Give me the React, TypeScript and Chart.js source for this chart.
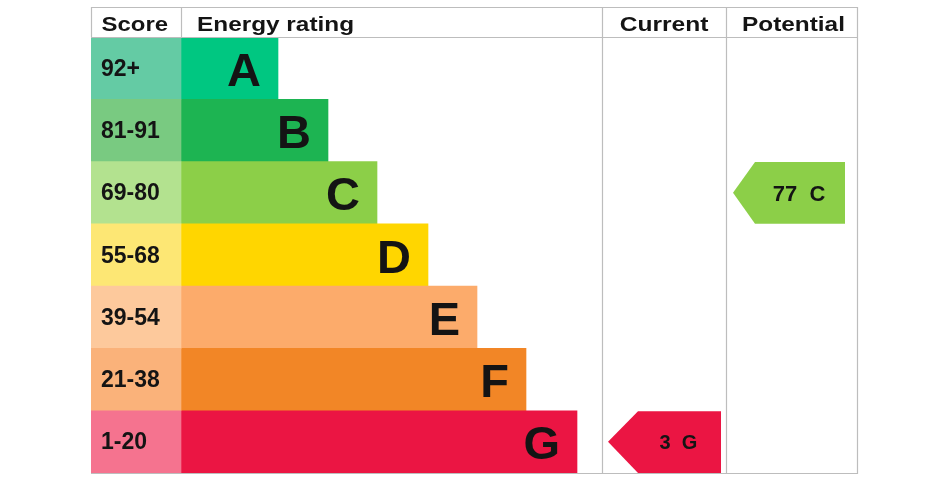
import React, { useEffect, useRef } from "react";
import { Chart, registerables } from "chart.js";

Chart.register(...registerables);

// ---- data ----
const ratings = ["A", "B", "C", "D", "E", "F", "G"];
const scoreBands = ["92+", "81-91", "69-80", "55-68", "39-54", "21-38", "1-20"];
const barLengths = [97, 147, 196, 247, 296, 345, 396];
const headers = ["Score", "Energy rating", "Current", "Potential"];
const currentScore = 3;
const currentRating = "G";
const potentialScore = 77;
const potentialRating = "C";

// ---- styles ----
const scoreColors = ["#64cba4", "#79ca81", "#b3e28f", "#fde774", "#fdc99c", "#fab27a", "#f5738f"];
const barColors = ["#00c781", "#1db452", "#8ccf48", "#ffd600", "#fcab6b", "#f28626", "#eb1543"];
const columnEdges = [0, 90, 511, 635, 766];
const FONT = '"Liberation Sans", Arial, Helvetica, sans-serif';
const GRID = "#bdbdbd";
const TEXT = "#141414";

function stretchText(ctx: CanvasRenderingContext2D, text: string, x: number, y: number, align: CanvasTextAlign, sx: number) {
  ctx.save();
  ctx.translate(x, y);
  ctx.scale(sx, 1);
  ctx.textAlign = align;
  ctx.textBaseline = "alphabetic";
  ctx.fillText(text, 0, 0);
  ctx.restore();
}

const epcPlugin = {
  id: "epcTable",
  afterDatasetsDraw(chart: any) {
    const ctx: CanvasRenderingContext2D = chart.ctx;
    const xs = chart.scales.x;
    const ys = chart.scales.y;
    const area = chart.chartArea;
    const rowH = (area.bottom - area.top) / ratings.length;
    const px = (v: number) => xs.getPixelForValue(v);
    const headerTop = 7;

    ctx.save();
    // score labels
    ctx.fillStyle = TEXT;
    ctx.font = `bold 23px ${FONT}`;
    scoreBands.forEach((s, i) => {
      const cy = ys.getPixelForValue(i);
      stretchText(ctx, s, px(columnEdges[0]) + 10, cy + 7.5, "left", 1);
    });
    // rating letters
    ctx.font = `bold 47px ${FONT}`;
    ratings.forEach((r, i) => {
      const cy = ys.getPixelForValue(i);
      stretchText(ctx, r, px(columnEdges[1] + barLengths[i]) - 17, cy + 17.5, "right", 1);
    });

    // arrows
    const drawArrow = (
      col: number,
      ratingLetter: string,
      score: number,
      fontSize: number,
      tipIn: number,
      bodyIn: number,
      endIn: number
    ) => {
      const idx = ratings.indexOf(ratingLetter);
      const cy = ys.getPixelForValue(idx);
      const top = cy - rowH / 2 + 0.5;
      const bot = cy + rowH / 2;
      const left = px(columnEdges[col]);
      const right = px(columnEdges[col + 1]);
      const tip = left + tipIn;
      const body = left + bodyIn;
      const end = right - endIn;
      ctx.beginPath();
      ctx.moveTo(tip, cy);
      ctx.lineTo(body, top);
      ctx.lineTo(end, top);
      ctx.lineTo(end, bot);
      ctx.lineTo(body, bot);
      ctx.closePath();
      ctx.fillStyle = barColors[idx];
      ctx.fill();
      ctx.fillStyle = TEXT;
      ctx.font = `bold ${fontSize}px ${FONT}`;
      stretchText(ctx, `${score}\u00a0\u00a0${ratingLetter}`, (body + end) / 2 - 1, cy + fontSize * 0.36, "center", 1);
    };
    drawArrow(2, currentRating, currentScore, 20, 6, 36, 5);
    drawArrow(3, potentialRating, potentialScore, 22, 7, 29, 12);

    // grid lines
    ctx.strokeStyle = GRID;
    ctx.lineWidth = 1.2;
    const line = (x1: number, y1: number, x2: number, y2: number) => {
      ctx.beginPath();
      ctx.moveTo(x1, y1);
      ctx.lineTo(x2, y2);
      ctx.stroke();
    };
    const L = px(columnEdges[0]);
    const R = px(columnEdges[4]);
    line(L, headerTop + 0.5, R, headerTop + 0.5);
    line(L, area.top + 0.5, R, area.top + 0.5);
    line(L, area.bottom + 0.5, R, area.bottom + 0.5);
    line(L + 0.5, headerTop, L + 0.5, area.top);
    line(px(columnEdges[1]) + 0.5, headerTop, px(columnEdges[1]) + 0.5, area.top);
    [2, 3, 4].forEach((c) => {
      const x = Math.round(px(columnEdges[c])) + 0.5;
      line(x, headerTop, x, area.bottom + 1);
    });

    // headers
    ctx.fillStyle = TEXT;
    ctx.font = `bold 21px ${FONT}`;
    const hy = 31;
    stretchText(ctx, headers[0], L + 10.5, hy, "left", 1.14);
    stretchText(ctx, headers[1], px(columnEdges[1]) + 16, hy, "left", 1.16);
    stretchText(ctx, headers[2], (px(columnEdges[2]) + px(columnEdges[3])) / 2, hy, "center", 1.17);
    stretchText(ctx, headers[3], (px(columnEdges[3]) + px(columnEdges[4])) / 2 + 2, hy, "center", 1.16);
    ctx.restore();
  },
};

export default function App() {
  const ref = useRef<HTMLCanvasElement>(null);
  useEffect(() => {
    document.body.style.margin = "0";
    const canvas = ref.current!;
    const chart = new Chart(canvas, {
      type: "bar",
      data: {
        labels: ratings,
        datasets: [
          {
            label: "Score",
            data: ratings.map(() => [columnEdges[0], columnEdges[1]]) as any,
            backgroundColor: scoreColors,
            borderWidth: 0,
            grouped: false,
            barPercentage: 1,
            categoryPercentage: 1,
          } as any,
          {
            label: "Energy rating",
            data: barLengths.map((l) => [columnEdges[1], columnEdges[1] + l]) as any,
            backgroundColor: barColors,
            borderWidth: 0,
            grouped: false,
            barPercentage: 1,
            categoryPercentage: 1,
          } as any,
        ],
      },
      options: {
        indexAxis: "y",
        responsive: false,
        animation: false,
        layout: { padding: { left: 91, right: 93, top: 37, bottom: 7 } },
        scales: {
          x: { type: "linear", min: columnEdges[0], max: columnEdges[4], display: false },
          y: { type: "category", display: false, offset: true },
        },
        plugins: { legend: { display: false }, tooltip: { enabled: false } },
      },
      plugins: [epcPlugin],
    });
    return () => chart.destroy();
  }, []);
  return (
    <div style={{ width: 950, height: 480 }}>
      <canvas ref={ref} width={950} height={480} style={{ display: "block" }} />
    </div>
  );
}
